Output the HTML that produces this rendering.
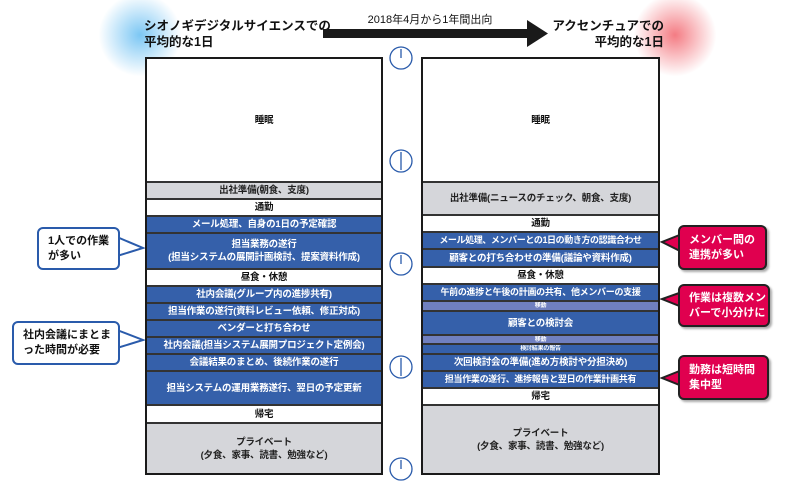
<!DOCTYPE html>
<html><head><meta charset="utf-8"><style>
body{margin:0;width:800px;height:490px;background:#fff;position:relative;overflow:hidden;font-family:"Liberation Sans","Noto Sans CJK JP",sans-serif;color:#111}
.a{position:absolute}
.col{position:absolute;border:2px solid #1a1a1a;background:#fff}
.r{position:absolute;left:0;right:0;display:flex;align-items:center;justify-content:center;text-align:center;font-size:9.5px;font-weight:bold;line-height:13px;border-top:2px solid #333;box-sizing:border-box;white-space:nowrap;overflow:hidden;letter-spacing:-0.2px}
.b{background:#3560aa;color:#fff}
.g{background:#d5d6da;color:#222}
.w{background:#fff;color:#111}
.l{background:#7080c0;color:#fff;font-size:6px;line-height:6px}
.co{position:absolute;border-radius:6px;font-size:11px;font-weight:bold;line-height:15px;padding:0 0 0 9px;box-sizing:border-box;display:flex;align-items:center;white-space:nowrap}
.cw{background:#fff;border:2px solid #2a5bab;color:#111}
.cr{background:#e0004f;border:2px solid #222;color:#fff;box-shadow:2px 2px 2px #aaa}
</style></head><body>
<div class="a" style="left:95px;top:-10px;width:90px;height:90px;border-radius:50%;background:radial-gradient(circle,rgba(80,180,240,.75),rgba(80,180,240,0) 65%)"></div>
<div class="a" style="left:630px;top:-10px;width:90px;height:90px;border-radius:50%;background:radial-gradient(circle,rgba(240,80,90,.75),rgba(240,80,90,0) 65%)"></div>
<div class="a" style="left:144px;top:18px;font-size:12.5px;font-weight:bold;line-height:16px">シオノギデジタルサイエンスでの<br>平均的な1日</div>
<div class="a" style="left:540px;top:18px;width:124px;text-align:right;font-size:12.5px;font-weight:bold;line-height:16px">アクセンチュアでの<br>平均的な1日</div>
<div class="a" style="left:340px;top:11px;width:180px;text-align:center;font-size:11px">2018年4月から1年間出向</div>
<svg class="a" style="left:0;top:0" width="800" height="490">
<rect x="323" y="29" width="210" height="9" fill="#1a1a1a"/>
<polygon points="527,20 548,33.5 527,47" fill="#1a1a1a"/>
<g fill="none" stroke="#2a5bab" stroke-width="1.3">
<circle cx="401" cy="58" r="11"/><circle cx="401" cy="161" r="11"/><circle cx="401" cy="264" r="11"/><circle cx="401" cy="367" r="11"/><circle cx="401" cy="469" r="11"/>
<line x1="401" y1="49" x2="401" y2="58"/><line x1="401" y1="152" x2="401" y2="170"/><line x1="401" y1="255" x2="401" y2="264"/><line x1="401" y1="358" x2="401" y2="376"/><line x1="401" y1="460" x2="401" y2="469"/>
</g>
<polygon points="117,237 143,248 117,256" fill="#fff" stroke="#2a5bab" stroke-width="2"/>
<polygon points="117,330 143,340 117,348" fill="#fff" stroke="#2a5bab" stroke-width="2"/>
<polygon points="682,234 662,242 682,252" fill="#e0004f" stroke="#222" stroke-width="2"/>
<polygon points="682,292 662,299 682,307" fill="#e0004f" stroke="#222" stroke-width="2"/>
<polygon points="682,370 662,378 682,386" fill="#e0004f" stroke="#222" stroke-width="2"/>
</svg>
<div class="co cw" style="left:37px;top:227px;width:83px;height:43px">1人での作業<br>が多い</div>
<div class="co cw" style="left:12px;top:321px;width:108px;height:44px">社内会議にまとま<br>った時間が必要</div>
<div class="co cr" style="left:678px;top:225px;width:89px;height:45px">メンバー間の<br>連携が多い</div>
<div class="co cr" style="left:678px;top:284px;width:92px;height:43px">作業は複数メン<br>バーで小分けに</div>
<div class="co cr" style="left:678px;top:355px;width:91px;height:45px">勤務は短時間<br>集中型</div>

<div class="col" style="left:145px;top:57px;width:234px;height:414px">
<div class="r w" style="top:0;height:122px;border-top:0">睡眠</div>
<div class="r g" style="top:122px;height:17px">出社準備(朝食、支度)</div>
<div class="r w" style="top:139px;height:17px">通勤</div>
<div class="r b" style="top:156px;height:17px">メール処理、自身の1日の予定確認</div>
<div class="r b" style="top:173px;height:36px">担当業務の遂行<br>(担当システムの展開計画検討、提案資料作成)</div>
<div class="r w" style="top:209px;height:17px">昼食・休憩</div>
<div class="r b" style="top:226px;height:17px">社内会議(グループ内の進捗共有)</div>
<div class="r b" style="top:243px;height:17px">担当作業の遂行(資料レビュー依頼、修正対応)</div>
<div class="r b" style="top:260px;height:17px">ベンダーと打ち合わせ</div>
<div class="r b" style="top:277px;height:17px">社内会議(担当システム展開プロジェクト定例会)</div>
<div class="r b" style="top:294px;height:17px">会議結果のまとめ、後続作業の遂行</div>
<div class="r b" style="top:311px;height:34px">担当システムの運用業務遂行、翌日の予定更新</div>
<div class="r w" style="top:345px;height:18px">帰宅</div>
<div class="r g" style="top:363px;height:51px">プライベート<br>(夕食、家事、読書、勉強など)</div>
</div>

<div class="col" style="left:421px;top:57px;width:235px;height:414px">
<div class="r w" style="top:0;height:122px;border-top:0">睡眠</div>
<div class="r g" style="top:122px;height:33px">出社準備(ニュースのチェック、朝食、支度)</div>
<div class="r w" style="top:155px;height:17px">通勤</div>
<div class="r b" style="top:172px;height:17px;font-size:9px;letter-spacing:-0.4px">メール処理、メンバーとの1日の動き方の認識合わせ</div>
<div class="r b" style="top:189px;height:18px">顧客との打ち合わせの準備(議論や資料作成)</div>
<div class="r w" style="top:207px;height:17px">昼食・休憩</div>
<div class="r b" style="top:224px;height:17px;font-size:9px;letter-spacing:-0.3px">午前の進捗と午後の計画の共有、他メンバーの支援</div>
<div class="r l" style="top:241px;height:10px">移動</div>
<div class="r b" style="top:251px;height:24px">顧客との検討会</div>
<div class="r l" style="top:275px;height:9px">移動</div>
<div class="r b" style="top:284px;height:10px;font-size:6px">検討結果の報告</div>
<div class="r b" style="top:294px;height:17px">次回検討会の準備(進め方検討や分担決め)</div>
<div class="r b" style="top:311px;height:17px;font-size:9px;letter-spacing:-0.3px">担当作業の遂行、進捗報告と翌日の作業計画共有</div>
<div class="r w" style="top:328px;height:17px">帰宅</div>
<div class="r g" style="top:345px;height:69px">プライベート<br>(夕食、家事、読書、勉強など)</div>
</div>
</body></html>
